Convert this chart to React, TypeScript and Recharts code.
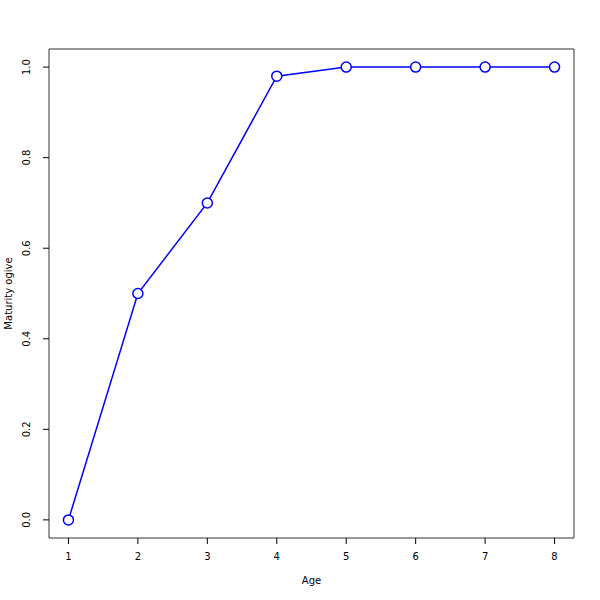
import React from "react";
import { LineChart, Line, XAxis, YAxis, ReferenceArea } from "recharts";

const ages = [1, 2, 3, 4, 5, 6, 7, 8];
const maturity = [0, 0.5, 0.7, 0.98, 1, 1, 1, 1];
const xTicks = [1, 2, 3, 4, 5, 6, 7, 8];
const yTicks = [0, 0.2, 0.4, 0.6, 0.8, 1.0];

const data = ages.map((a, i) => ({ age: a, value: maturity[i] }));

const FONT = "DejaVu Sans, sans-serif";

const YTick = (props: any) => {
  const { x, y, payload } = props;
  return (
    <text
      x={x - 11}
      y={y}
      transform={`rotate(-90, ${x - 11}, ${y})`}
      textAnchor="middle"
      fontSize={10}
      fontFamily={FONT}
      fill="#000"
    >
      {payload.value.toFixed(1)}
    </text>
  );
};

const XTick = (props: any) => {
  const { x, y, payload } = props;
  return (
    <text x={x} y={y + 14} textAnchor="middle" fontSize={10} fontFamily={FONT} fill="#000">
      {payload.value}
    </text>
  );
};

export default function App() {
  return (
    <div style={{ position: "absolute", left: 0, top: 0, width: 600, height: 600, background: "#fff" }}>
      <LineChart
        width={600}
        height={600}
        data={data}
        margin={{ top: 49, right: 26, left: 0, bottom: 0 }}
      >
        <XAxis
          dataKey="age"
          type="number"
          domain={[0.72, 8.28]}
          ticks={xTicks}
          allowDataOverflow
          height={62}
          tickSize={6}
          axisLine={false}
          tickLine={{ stroke: "#000" }}
          tick={<XTick />}
          interval={0}
          label={{ value: "Age", position: "insideBottom", offset: 16, fontSize: 10, fontFamily: FONT, fill: "#000" }}
        />
        <YAxis
          type="number"
          domain={[-0.04, 1.04]}
          ticks={yTicks}
          allowDataOverflow
          width={49}
          tickSize={6}
          axisLine={false}
          tickLine={{ stroke: "#000" }}
          tick={<YTick />}
          interval={0}
          label={{ value: "Maturity ogive", angle: -90, position: "insideLeft", offset: 8, fontSize: 10, fontFamily: FONT, fill: "#000", style: { textAnchor: "middle" } }}
        />
        <ReferenceArea
          x1={0.72}
          x2={8.28}
          y1={-0.04}
          y2={1.04}
          fill="none"
          fillOpacity={0}
          stroke="#333"
          strokeWidth={1}
          ifOverflow="visible"
        />
        <Line
          dataKey="value"
          stroke="#0000ff"
          strokeWidth={1.5}
          isAnimationActive={false}
          dot={{ r: 5, fill: "#fff", stroke: "#0000ff", strokeWidth: 1.5 }}
          activeDot={false}
        />
      </LineChart>
    </div>
  );
}
